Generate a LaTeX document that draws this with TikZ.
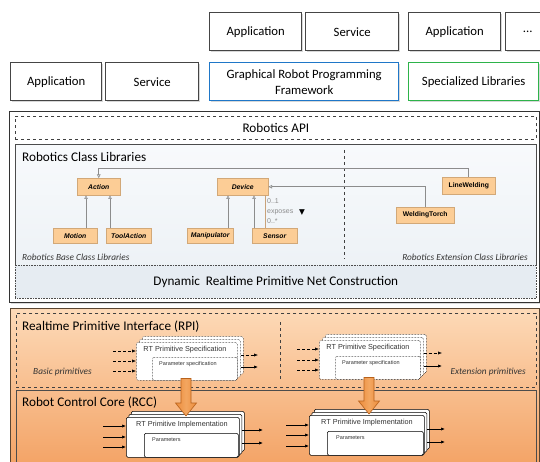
\documentclass[tikz,border=0pt]{standalone}
\usepackage{fontspec}
\setmainfont{Carlito}
\newfontfamily\umlf{Liberation Sans}
\newfontfamily\symf{DejaVu Sans}
\usetikzlibrary{shadows,arrows.meta}

\definecolor{boxline}{HTML}{454545}
\definecolor{blueline}{HTML}{1F77C8}
\definecolor{greenline}{HTML}{2DB34A}
\definecolor{classfill}{HTML}{FCCD96}
\definecolor{classline}{HTML}{D2A878}
\definecolor{umlgray}{HTML}{8C8C8C}
\definecolor{assoc}{HTML}{C9A27A}
\definecolor{peachtop}{HTML}{FDDAB8}
\definecolor{peachbot}{HTML}{F3A264}
\definecolor{arrowfill}{HTML}{EC8C3C}
\definecolor{arrowmid}{HTML}{F3A660}
\definecolor{arrowline}{HTML}{B8621C}
\definecolor{libtop}{HTML}{F8FAFC}
\definecolor{libbot}{HTML}{E6ECF2}
\definecolor{framebrown}{HTML}{5A4632}

\tikzset{
  nw/.style={anchor=north west, inner sep=0pt},
  appbox/.style={nw, draw=boxline, line width=1.4pt, fill=white, align=center,
    drop shadow={shadow xshift=1.5pt, shadow yshift=-1.5pt, fill=gray!60},
    font=\fontsize{12.7}{16}\selectfont},
  title/.style={anchor=west, inner sep=0pt, font=\fontsize{13.2}{15}\selectfont},
  subtitle/.style={inner sep=0pt, text=black!80, font=\fontsize{9.3}{11}\selectfont\itshape},
  cls/.style={nw, draw=classline, line width=0.5pt, fill=classfill,
    drop shadow={shadow xshift=1.2pt, shadow yshift=-1.2pt, fill=gray!45},
    font=\umlf\fontsize{6.8}{8}\selectfont\bfseries\itshape},
  clsup/.style={cls, font=\umlf\fontsize{6.8}{8}\selectfont\bfseries},
  gen/.style={draw=umlgray, line width=0.6pt, -{Triangle[open, length=3.5pt, width=3.6pt]}},
  assocline/.style={draw=assoc, line width=0.6pt},
  mult/.style={anchor=west, inner sep=0pt, text=umlgray, font=\umlf\fontsize{7}{8}\selectfont},
  page/.style={nw, draw=black, line width=0.5pt, fill=white, rounded corners=1.5pt},
  specpage/.style={page, densely dotted},
  rtlabel/.style={inner sep=0pt, text=black!80, font=\umlf\fontsize{7.3}{9}\selectfont},
  parlabel/.style={anchor=west, inner sep=0pt, text=black!80, font=\umlf\fontsize{5.5}{7}\selectfont},
  dashin/.style={densely dashed, line width=0.6pt, -{Latex[length=4pt, width=3.2pt]}},
  solidin/.style={line width=0.7pt, -{Latex[length=4pt, width=3.2pt]}},
  bigarrow/.style={draw=arrowline, line width=0.6pt, left color=arrowfill, right color=arrowfill,
    middle color=arrowmid, line join=miter}
}

\begin{document}
\begin{tikzpicture}[x=1pt, y=-1pt]
\fill[white] (0,0) rectangle (540,462);
\useasboundingbox (0,0) rectangle (540,462);

% ---------- application layer ----------
\node[appbox, minimum width=92, minimum height=38] (appB) at (209,12) {Application};
\node[appbox, minimum width=93, minimum height=38] (svcB) at (305,12) {Service};
\node[appbox, minimum width=92, minimum height=38] (appC) at (408,12) {Application};
\node[appbox, minimum width=44, minimum height=38] (more) at (505,12) {...};

\node[appbox, minimum width=91, minimum height=38] (appA) at (10,62) {Application};
\node[appbox, minimum width=93, minimum height=38] (svcA) at (105,62) {Service};
\node[appbox, draw=blueline, minimum width=189, minimum height=38] (grpf) at (209,62)
  {Graphical Robot Programming\\Framework};
\node[appbox, draw=greenline, minimum width=130, minimum height=38] (speclib) at (408,62)
  {Specialized Libraries};

% ---------- Robotics API ----------
\node[nw, draw=black!80, line width=0.8pt, fill=white, minimum width=530, minimum height=191,
  drop shadow={shadow xshift=1.5pt, shadow yshift=-2pt, fill=gray!55}] (apiframe) at (9,111) {};
\node[nw, draw=black!75, dashed, line width=0.7pt, fill=white, minimum width=521, minimum height=23,
  font=\fontsize{13.2}{15}\selectfont] (rapi) at (15,116) {Robotics API};
\node[nw, draw=black!70, line width=0.6pt, top color=libtop, bottom color=libbot!60!libtop,
  minimum width=521, minimum height=121] (lib) at (15,144) {};
\node[nw, draw=black!70, densely dotted, line width=0.6pt, fill=libbot,
  minimum width=521, minimum height=33, font=\fontsize{13.2}{15}\selectfont] (dyn) at (15,265)
  {Dynamic\ \ Realtime Primitive Net Construction};
\node[title] (libtitle) at (22,157) {Robotics Class Libraries};
\node[subtitle, anchor=west] (baselib) at (22,257) {Robotics Base Class Libraries};
\node[subtitle, anchor=east] (extlib) at (528,257) {Robotics Extension Class Libraries};
\coordinate (sepTop) at (344,150);
\coordinate (sepBot) at (344,259);
\draw[dashed, line width=0.7pt, black!75] (sepTop) -- (sepBot);

% class diagram
\node[cls, minimum width=43, minimum height=17] (action) at (77,178) {Action};
\node[cls, minimum width=44, minimum height=15] (motion) at (53,228) {Motion};
\node[cls, minimum width=45, minimum height=15] (toolaction) at (106,228) {ToolAction};
\node[cls, minimum width=51, minimum height=17] (device) at (217,178) {Device};
\node[cls, minimum width=46, minimum height=15] (manip) at (187,228) {Manipulator};
\node[cls, minimum width=45, minimum height=15] (sensor) at (252,228) {Sensor};
\node[clsup, minimum width=53, minimum height=17] (linew) at (442,177) {LineWelding};
\node[clsup, minimum width=58, minimum height=16] (weldt) at (396,207) {WeldingTorch};

\draw[gen] (motion.north -| 86,0) -- (action.south -| 86,0);
\draw[gen] (toolaction.north -| 110,0) -- (action.south -| 110,0);
\draw[gen] (linew.north) |- (action.north |- 0,168) -- (action.north);
\draw[gen] (manip.north -| 228,0) -- (device.south -| 228,0);
\draw[gen] (sensor.north -| 254,0) -- (device.south -| 254,0);
\draw[gen] (weldt.north) |- (device.east);
\draw[assocline] (device.south -| 265,0) -- (sensor.north -| 265,0);
\node[mult] (mOne) at (267,201) {0..1};
\node[mult] (mExp) at (267,212.5) {exposes};
\node[mult] (mMany) at (267,221) {0..*};
\node[inner sep=0pt, font=\symf\fontsize{7.5}{8}\selectfont] (expdir) at (302,212.5) {▼};

% ---------- realtime layer ----------
\node[nw, draw=framebrown, line width=0.8pt, top color=peachtop, bottom color=peachbot,
  minimum width=529, minimum height=160] (rtframe) at (10,308) {};
\node[nw, draw=black!75, dashed, line width=0.7pt, minimum width=520, minimum height=74] (rpi) at (16,313) {};
\node[nw, draw=black!70, line width=0.7pt, minimum width=520, minimum height=80] (rcc) at (16,390) {};
\coordinate (rpiSepTop) at (280,322);
\coordinate (rpiSepBot) at (280,381);
\draw[dashed, line width=0.7pt, black!75] (rpiSepTop) -- (rpiSepBot);
\node[title] (rpititle) at (22,327) {Realtime Primitive Interface (RPI)};
\node[title] (rcctitle) at (22,403) {Robot Control Core (RCC)};
\node[subtitle, anchor=west] (basicp) at (33,372) {Basic primitives};
\node[subtitle, anchor=east] (extp) at (526,372) {Extension primitives};

% left specification stack
\node[specpage, minimum width=101, minimum height=38] (specA2) at (142,336) {};
\node[specpage, minimum width=101, minimum height=38] (specA1) at (139,339) {};
\node[specpage, minimum width=101, minimum height=38] (specA) at (136,342) {};
\node[specpage, minimum width=85, minimum height=23] (pspecA) at (152,357) {};
\node[rtlabel] (specAtext) at (185,350) {RT Primitive Specification};
\node[parlabel] (pspecAtext) at (159,364) {Parameter specification};
\coordinate (inA1) at (113,351);
\coordinate (inA2) at (113,361);
\coordinate (inA3) at (113,371);
\draw[dashin] (inA1) -- (inA1 -| specA.west);
\draw[dashin] (inA2) -- (inA2 -| specA.west);
\draw[dashin] (inA3) -- (inA3 -| specA.west);
\coordinate (outA1) at (258,355);
\coordinate (outA2) at (258,367);
\draw[dashin] (outA1 -| specA1.east) -- (outA1);
\draw[solidin] (outA2 -| specA1.east) -- (outA2);

% right specification stack
\node[specpage, minimum width=101, minimum height=39] (specB2) at (325,334) {};
\node[specpage, minimum width=101, minimum height=39] (specB1) at (322,337) {};
\node[specpage, minimum width=101, minimum height=39] (specB) at (319,340) {};
\node[specpage, minimum width=85, minimum height=23] (pspecB) at (335,356) {};
\node[rtlabel] (specBtext) at (368,348) {RT Primitive Specification};
\node[parlabel] (pspecBtext) at (342,363) {Parameter specification};
\coordinate (inB1) at (297,349);
\coordinate (inB2) at (297,360);
\coordinate (inB3) at (297,370);
\draw[dashin] (inB1) -- (inB1 -| specB.west);
\draw[dashin] (inB2) -- (inB2 -| specB.west);
\draw[dashin] (inB3) -- (inB3 -| specB.west);
\coordinate (outB1) at (442,353);
\coordinate (outB2) at (442,366);
\draw[dashin] (outB1 -| specB1.east) -- (outB1);
\draw[solidin] (outB2 -| specB1.east) -- (outB2);

% left implementation stack
\node[page, minimum width=113, minimum height=40] (implA2) at (131,411) {};
\node[page, minimum width=113, minimum height=40] (implA1) at (128.5,414) {};
\node[page, minimum width=113, minimum height=40] (implA) at (126,417) {};
\node[page, minimum width=94, minimum height=24] (parA) at (144,433) {};
\node[rtlabel] (implAtext) at (182,425) {RT Primitive Implementation};
\node[parlabel] (parAtext) at (152,440) {Parameters};
\coordinate (inC1) at (103,426);
\coordinate (inC2) at (103,437);
\coordinate (inC3) at (103,447);
\draw[solidin] (inC1) -- (inC1 -| implA.west);
\draw[solidin] (inC2) -- (inC2 -| implA.west);
\draw[solidin] (inC3) -- (inC3 -| implA.west);
\coordinate (outC1) at (263,430);
\coordinate (outC2) at (263,443);
\draw[solidin] (outC1 -| implA1.east) -- (outC1);
\draw[solidin] (outC2 -| implA1.east) -- (outC2);

% right implementation stack
\node[page, minimum width=115, minimum height=40] (implB2) at (314,409) {};
\node[page, minimum width=115, minimum height=40] (implB1) at (311.5,412) {};
\node[page, minimum width=115, minimum height=40] (implB) at (309,415) {};
\node[page, minimum width=96, minimum height=24] (parB) at (327,431) {};
\node[rtlabel] (implBtext) at (367,423) {RT Primitive Implementation};
\node[parlabel] (parBtext) at (336,438) {Parameters};
\coordinate (inD1) at (286,425);
\coordinate (inD2) at (286,435);
\coordinate (inD3) at (286,446);
\draw[solidin] (inD1) -- (inD1 -| implB.west);
\draw[solidin] (inD2) -- (inD2 -| implB.west);
\draw[solidin] (inD3) -- (inD3 -| implB.west);
\coordinate (outD1) at (445,429);
\coordinate (outD2) at (445,442);
\draw[solidin] (outD1 -| implB1.east) -- (outD1);
\draw[solidin] (outD2 -| implB1.east) -- (outD2);

% specification is mapped to implementation (broad block arrows)
\coordinate (mapAtop) at (specA.south -| 186,0);
\coordinate (mapAtip) at (implA.north -| 186,0);
\coordinate (mapBtop) at (specB.south -| 369,0);
\coordinate (mapBtip) at (implB.north -| 369,0);
\draw[bigarrow] ([xshift=-5pt,yshift=2pt]mapAtop) -- ([xshift=-5pt,yshift=14pt]mapAtip)
  -- ([xshift=-10.5pt,yshift=14pt]mapAtip) -- ([yshift=1pt]mapAtip)
  -- ([xshift=10.5pt,yshift=14pt]mapAtip) -- ([xshift=5pt,yshift=14pt]mapAtip)
  -- ([xshift=5pt,yshift=2pt]mapAtop) -- cycle;
\draw[bigarrow] ([xshift=-5pt,yshift=2pt]mapBtop) -- ([xshift=-5pt,yshift=14pt]mapBtip)
  -- ([xshift=-10.5pt,yshift=14pt]mapBtip) -- ([yshift=1pt]mapBtip)
  -- ([xshift=10.5pt,yshift=14pt]mapBtip) -- ([xshift=5pt,yshift=14pt]mapBtip)
  -- ([xshift=5pt,yshift=2pt]mapBtop) -- cycle;
\end{tikzpicture}
\end{document}
